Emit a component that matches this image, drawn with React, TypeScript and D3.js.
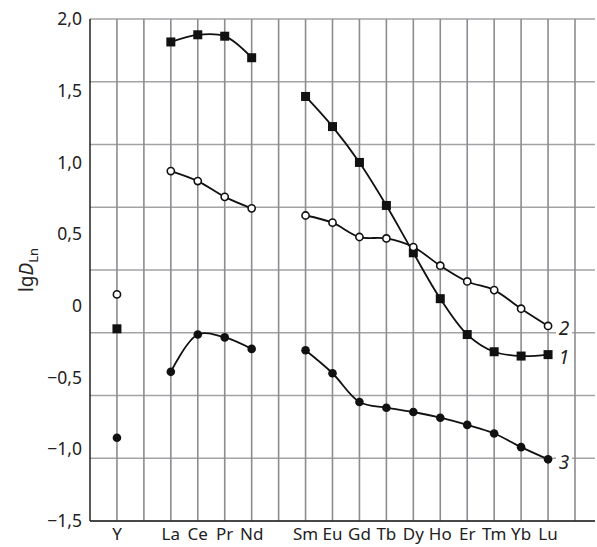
import React from 'react';
import * as d3 from 'd3';

// x slots: empty keys are the blank columns of the grid
const slots = ['_0', 'Y', '_2', 'La', 'Ce', 'Pr', 'Nd', '_7', 'Sm', 'Eu', 'Gd', 'Tb', 'Dy', 'Ho', 'Er', 'Tm', 'Yb', 'Lu', '_18'];
const elements = ['Y', 'La', 'Ce', 'Pr', 'Nd', 'Sm', 'Eu', 'Gd', 'Tb', 'Dy', 'Ho', 'Er', 'Tm', 'Yb', 'Lu'];
const lightGroup = ['La', 'Ce', 'Pr', 'Nd'];
const heavyGroup = ['Sm', 'Eu', 'Gd', 'Tb', 'Dy', 'Ho', 'Er', 'Tm', 'Yb', 'Lu'];

const series1 = [-0.16, 1.84, 1.89, 1.88, 1.73, 1.46, 1.25, 1.0, 0.7, 0.37, 0.05, -0.2, -0.32, -0.35, -0.34];
const series2 = [0.08, 0.94, 0.87, 0.76, 0.68, 0.63, 0.58, 0.48, 0.47, 0.41, 0.28, 0.17, 0.11, -0.02, -0.14];
const series3 = [-0.92, -0.46, -0.2, -0.22, -0.3, -0.31, -0.47, -0.67, -0.71, -0.74, -0.78, -0.83, -0.89, -0.985, -1.07];

const yTicks = [2.0, 1.5, 1.0, 0.5, 0, -0.5, -1.0, -1.5];
const yTickLabels = ['2,0', '1,5', '1,0', '0,5', '0', '−0,5', '−1,0', '−1,5'];
const gridCount = 8;

const font = '"Noto Sans", "Open Sans", sans-serif';

const App = () => {
    const width = 597;
    const height = 547;
    const left = 90, right = 575, top = 19, bottom = 521, edge = 595;

    const x = d3.scalePoint().domain(slots).range([left, right]);
    const y = d3.scaleLinear().domain([-1.5, 2.0]).range([bottom, top]);
    const grid = d3.scaleLinear().domain([0, gridCount]).range([bottom, top]);

    const line = d3.line<[string, number]>()
        .x(d => x(d[0]) as number)
        .y(d => y(d[1]))
        .curve(d3.curveCatmullRom.alpha(0.5));

    const pts = (vals: number[]) => elements.map((e, i) => [e, vals[i]] as [string, number]);
    const seg = (vals: number[], group: string[]) => pts(vals).filter(p => group.includes(p[0]));

    const allSeries = [
        { key: '1', vals: series1, marker: 'square' },
        { key: '2', vals: series2, marker: 'open' },
        { key: '3', vals: series3, marker: 'dot' },
    ];

    const marker = (kind: string, cx: number, cy: number, k: string) => {
        if (kind === 'square') return <rect key={k} x={cx - 4.5} y={cy - 4.5} width={9} height={9} fill="#111" />;
        if (kind === 'open') return <circle key={k} cx={cx} cy={cy} r={3.6} fill="#fff" stroke="#111" strokeWidth={1.6} />;
        return <circle key={k} cx={cx} cy={cy} r={4.3} fill="#111" />;
    };

    const lastLu = (vals: number[]) => y(vals[elements.indexOf('Lu')]);
    const endLabels = [
        { text: '2', y: lastLu(series2) + 2 },
        { text: '1', y: lastLu(series1) + 3 },
        { text: '3', y: lastLu(series3) + 3 },
    ];

    return (
        <svg width={width} height={height} style={{ position: 'absolute', left: 0, top: 0 }}>
            <rect width={width} height={height} fill="#fff" />
            {/* horizontal grid */}
            {d3.range(gridCount + 1).map(i => (
                <line key={'h' + i} x1={left} x2={edge} y1={grid(i)} y2={grid(i)} stroke="#a3a3a6" strokeWidth={1.5} />
            ))}
            {/* vertical grid */}
            {slots.slice(1).map(s => (
                <line key={'v' + s} x1={x(s)} x2={x(s)} y1={top} y2={bottom} stroke="#8c8c92" strokeWidth={1.6} />
            ))}
            {/* axes */}
            <line x1={left} x2={left} y1={top} y2={bottom} stroke="#222" strokeWidth={1.5} />
            <line x1={left} x2={edge} y1={bottom} y2={bottom} stroke="#222" strokeWidth={1.5} />

            {yTicks.map((t, i) => (
                <text key={'yt' + i} x={82} y={y(t)} dy="0.35em" textAnchor="end" fontFamily={font} fontSize={17.5} fill="#222">{yTickLabels[i]}</text>
            ))}
            {elements.map(e => (
                <text key={'xt' + e} x={x(e)} y={540} textAnchor="middle" fontFamily={font} fontSize={17} fill="#222">{e}</text>
            ))}
            <text transform="translate(33,270) rotate(-90)" textAnchor="middle" fontFamily={font} fontSize={19} fill="#222">
                lg<tspan fontStyle="italic">D</tspan><tspan fontSize={13} dy={5}>Ln</tspan>
            </text>

            {/* series */}
            {allSeries.map(s => (
                <g key={'s' + s.key}>
                    <path d={line(seg(s.vals, lightGroup)) || ''} fill="none" stroke="#111" strokeWidth={1.8} />
                    <path d={line(seg(s.vals, heavyGroup)) || ''} fill="none" stroke="#111" strokeWidth={1.8} />
                    {pts(s.vals).map(p => marker(s.marker, x(p[0]) as number, y(p[1]), s.key + p[0]))}
                </g>
            ))}

            {endLabels.map(l => (
                <g key={'lab' + l.text}>
                    <rect x={556} y={l.y - 11} width={16} height={22} fill="#fff" />
                    <text x={564} y={l.y} dy="0.35em" textAnchor="middle" fontFamily={font} fontStyle="italic" fontSize={19} fill="#222">{l.text}</text>
                </g>
            ))}
        </svg>
    );
};

export default App;
